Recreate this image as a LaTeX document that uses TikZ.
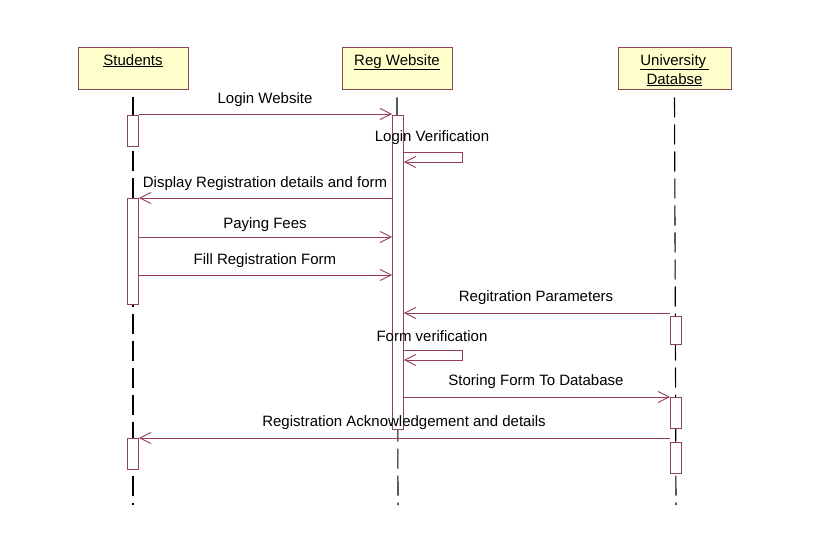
\documentclass[tikz,border=0pt]{standalone}
\usepackage{fontspec}
\setmainfont{Liberation Sans}
\usetikzlibrary{arrows.meta}
\definecolor{boxc}{RGB}{140,70,80}
\definecolor{msgc}{RGB}{150,60,100}
\definecolor{headfill}{RGB}{255,255,204}
\begin{document}
\begin{tikzpicture}[x=1pt,y=-1pt,
 head/.style={draw=boxc, fill=headfill, line width=1pt, minimum width=110pt, minimum height=42pt, inner sep=0pt},
 headtxt/.style={anchor=north, inner sep=0pt, font=\fontsize{15}{19}\selectfont, align=center},
 life/.style={line width=1.1pt, dash pattern=on 20pt off 7pt},
 act/.style={draw=boxc, fill=white, line width=0.9pt, minimum width=11pt, inner sep=0pt},
 msg/.style={draw=msgc, line width=0.9pt, -{Straight Barb[length=11pt,width=11pt,line width=0.9pt]}},
 lbl/.style={inner sep=0pt, font=\fontsize{15}{18}\selectfont}
]
\fill[white] (0,0) rectangle (816,556);
\useasboundingbox (0,0) rectangle (816,556);

% heads
\node[head] (students) at (133,69) {};
\node[head] (reg) at (397,69) {};
\node[head, minimum width=113pt] (db) at (674.5,69) {};
\node[headtxt] (studentsT) at ([yshift=-6.5pt]students.north) {\underline{Students}};
\node[headtxt] (regT) at ([yshift=-6.5pt]reg.north) {\underline{Reg Website}};
\node[headtxt] (dbT) at ([yshift=-6.5pt]db.north) {\underline{University\,}\\\underline{Databse}};

% lifeline ends
\coordinate (sEnd) at (133,505);
\coordinate (rEnd) at (398,505);
\coordinate (dEnd) at (676,505);
\draw[life] ([yshift=-7pt]students.south) -- (sEnd);
\draw[life] ([yshift=-7pt]reg.south) -- (rEnd);
\draw[life] ([yshift=-7pt]db.south) -- (dEnd);

% activations
\node[act, minimum height=31pt] (s1) at (133,130.5) {};
\node[act, minimum height=106pt] (s2) at (133,251) {};
\node[act, minimum height=31pt] (s3) at (133,453.5) {};
\node[act, minimum height=314pt] (r1) at (398,272) {};
\node[act, minimum height=28pt] (d1) at (676,330) {};
\node[act, minimum height=31pt] (d2) at (676,412.5) {};
\node[act, minimum height=31pt] (d3) at (676,457.5) {};

% messages
\draw[msg] (s1.east |- 0,114) -- (r1.west |- 0,114);
\draw[msg] (r1.east |- 0,152) -- ++(58,0) -- ++(0,10) -- (r1.east |- 0,162);
\draw[msg] (r1.west |- 0,198) -- (s2.east |- 0,198);
\draw[msg] (s2.east |- 0,237) -- (r1.west |- 0,237);
\draw[msg] (s2.east |- 0,275) -- (r1.west |- 0,275);
\draw[msg] (d1.west |- 0,313) -- (r1.east |- 0,313);
\draw[msg] (r1.east |- 0,350) -- ++(58,0) -- ++(0,10) -- (r1.east |- 0,360);
\draw[msg] (r1.east |- 0,397) -- (d2.west |- 0,397);
\draw[msg] (d3.west |- 0,438) -- (s3.east |- 0,438);

% labels
\node[lbl] (l1) at (265,100) {Login Website};
\node[lbl] (l2) at (432,138) {Login Verification};
\node[lbl] (l3) at (265,184) {Display Registration details and form};
\node[lbl] (l4) at (265,225) {Paying Fees};
\node[lbl] (l5) at (265,261) {Fill Registration Form};
\node[lbl] (l6) at (536,298) {Regitration Parameters};
\node[lbl] (l7) at (432,336) {Form verification};
\node[lbl] (l8) at (536,382) {Storing Form To Database};
\node[lbl] (l9) at (404,423) {Registration Acknowledgement and details};
\end{tikzpicture}
\end{document}
